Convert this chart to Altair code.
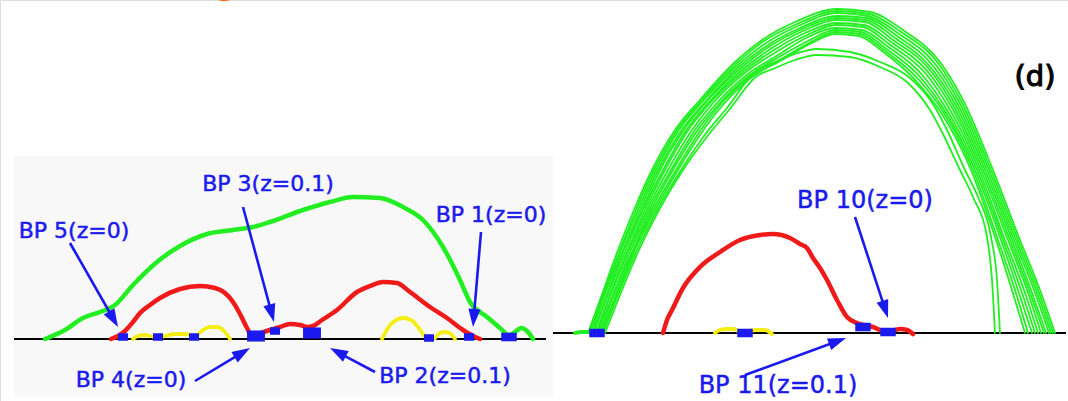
import altair as alt
import pandas as pd
import numpy as np

W, H = 1068, 401

# ---------------- data (image-like coordinates, y grows downward) ----------------
panel_x, panel_x2, panel_y, panel_y2 = [14], [553], [156], [397]
baseline_x = [14, 553]
baseline_x2 = [546, 1066]
baseline_y = [339, 333]

# left panel curves
left_green = [(45, 339), (65, 330), (83, 318), (100, 312), (115, 305), (133, 285), (157, 262),
              (180, 246), (207, 234), (233, 230), (253, 227), (270, 222), (303, 210), (330, 202),
              (353, 197), (380, 198), (403, 207), (423, 220), (443, 247), (460, 280), (470, 302),
              (487, 317), (500, 328), (509, 335), (515, 332), (521, 328), (527, 331), (533, 339)]
left_red = [(111, 339), (118, 336), (125, 331), (133, 322), (140, 313), (150, 305), (160, 298),
            (180, 289), (200, 286), (215, 288), (225, 293), (233, 302), (240, 314), (247, 328),
            (252, 336), (258, 334), (270, 330), (280, 327), (290, 324), (300, 325), (307, 327),
            (313, 326), (322, 320), (337, 310), (357, 292), (370, 286), (383, 282), (397, 283),
            (410, 292), (430, 307), (447, 318), (463, 330), (473, 336), (480, 339)]
left_yellow_a = [(133, 339), (138, 336), (145, 335), (155, 337), (165, 336), (175, 334),
                 (185, 334), (195, 336), (203, 330), (210, 327), (217, 327), (224, 331), (230, 339)]
left_yellow_b = [(382, 339), (388, 328), (396, 320), (403, 318), (411, 320), (418, 327), (425, 337)]
left_yellow_c = [(435, 338), (440, 333), (445, 332), (451, 334), (455, 339)]

# right panel curves
right_red = [(663, 333), (667, 320), (672, 310), (683, 288), (700, 267), (720, 252), (740, 240),
             (760, 235), (773, 234), (790, 238), (800, 244), (807, 248), (813, 258), (820, 268),
             (827, 280), (837, 300), (847, 317), (857, 323), (873, 327), (887, 332), (900, 329),
             (907, 330), (913, 334)]
right_yellow = [(715, 333), (720, 330), (727, 329), (734, 329), (740, 332), (747, 331),
                (757, 330), (765, 330), (772, 334)]
right_green_tail = [(575, 333), (582, 332), (590, 332)]

# green field-line bundle (right panel)
fan_1 = [(588, 333), (600, 300), (618, 250), (634, 210), (652, 170), (675, 130), (700, 100), (733, 64), (762, 40), (795, 22), (837, 9), (870, 12), (903, 30), (940, 62), (963, 100), (993, 170), (1020, 240), (1040, 290), (1055, 333)]
fan_2 = [(589, 333), (601, 300), (620, 250), (636, 210), (654, 170), (677, 130), (702, 100), (735, 65), (764, 41), (797, 24), (837, 11), (869, 14), (901, 32), (938, 63), (961, 101), (991, 170), (1018, 240), (1038, 290), (1053, 333)]
fan_3 = [(590, 333), (602, 300), (621, 250), (638, 210), (656, 170), (679, 130), (704, 100), (737, 66), (766, 43), (798, 26), (837, 13), (868, 16), (899, 34), (936, 65), (959, 102), (989, 170), (1016, 240), (1036, 290), (1051, 333)]
fan_4 = [(592, 333), (603, 300), (623, 250), (640, 210), (658, 170), (681, 131), (706, 101), (739, 67), (768, 45), (800, 28), (837, 16), (867, 18), (897, 36), (934, 67), (957, 103), (987, 170), (1014, 240), (1034, 290), (1049, 333)]
fan_5 = [(593, 333), (605, 300), (624, 250), (642, 210), (660, 170), (683, 131), (707, 101), (741, 68), (770, 46), (802, 29), (836, 18), (866, 20), (895, 38), (932, 69), (955, 104), (985, 170), (1012, 240), (1031, 290), (1046, 333)]
fan_6 = [(594, 333), (606, 300), (626, 250), (643, 210), (663, 170), (685, 132), (709, 102), (742, 70), (772, 48), (803, 31), (836, 20), (865, 22), (893, 40), (930, 70), (953, 105), (983, 170), (1010, 240), (1029, 290), (1044, 333)]
fan_7 = [(596, 333), (608, 300), (628, 250), (645, 210), (665, 170), (687, 132), (711, 102), (744, 71), (774, 50), (805, 33), (836, 23), (864, 25), (891, 42), (928, 72), (951, 106), (981, 170), (1008, 240), (1027, 290), (1041, 333)]
fan_8 = [(597, 333), (609, 300), (629, 250), (647, 210), (668, 170), (690, 133), (713, 103), (746, 72), (776, 52), (807, 35), (836, 25), (863, 27), (889, 44), (926, 74), (949, 108), (979, 170), (1005, 240), (1024, 290), (1038, 333)]
fan_9 = [(598, 333), (611, 300), (631, 250), (649, 210), (671, 170), (693, 133), (716, 104), (748, 74), (778, 55), (808, 37), (835, 28), (862, 30), (887, 46), (924, 77), (947, 110), (977, 170), (1003, 240), (1021, 290), (1035, 333)]
fan_10 = [(600, 333), (612, 300), (633, 250), (651, 210), (673, 170), (695, 134), (718, 105), (750, 75), (779, 57), (810, 40), (835, 30), (861, 32), (885, 48), (922, 79), (945, 111), (975, 170), (1001, 240), (1018, 290), (1032, 333)]
fan_11 = [(601, 333), (614, 300), (634, 250), (653, 210), (676, 170), (698, 134), (720, 105), (751, 76), (781, 59), (811, 42), (835, 32), (860, 34), (884, 50), (920, 81), (944, 113), (973, 170), (998, 240), (1015, 290), (1028, 333)]
fan_12 = [(602, 333), (615, 300), (635, 250), (655, 210), (678, 170), (700, 135), (722, 106), (752, 77), (782, 60), (812, 43), (835, 34), (859, 36), (882, 51), (918, 83), (942, 114), (971, 170), (996, 240), (1012, 290), (1025, 333)]
fan_13 = [(603, 333), (616, 300), (637, 250), (657, 210), (681, 170), (704, 136), (727, 108), (757, 70), (773, 63), (795, 54), (817, 49), (850, 52), (880, 62), (910, 78), (933, 104), (947, 130), (965, 170), (978, 197), (991, 237), (997, 280), (1000, 333)]
fan_14 = [(605, 333), (618, 300), (639, 250), (659, 210), (683, 170), (706, 138), (729, 110), (757, 76), (773, 69), (795, 60), (817, 55), (850, 57), (880, 67), (908, 83), (930, 110), (944, 136), (960, 170), (973, 197), (987, 237), (992, 280), (995, 333)]
fan_lines = [fan_1, fan_2, fan_3, fan_4, fan_5, fan_6, fan_7, fan_8, fan_9, fan_10,
             fan_11, fan_12, fan_13, fan_14]

# blue footpoint markers (centres)
marker_small_x = [123, 158, 194, 275, 429, 469]
marker_small_y = [337, 337, 337, 331, 338, 337]
marker_mid_x = [509, 597, 745, 863, 888]
marker_mid_y = [337, 333, 333, 327, 332]
marker_big_x = [256, 312]
marker_big_y = [336, 333]

# arrows: start -> tip
arrow_x0 = [70, 243, 481, 195, 375, 855, 745]
arrow_y0 = [243, 207, 232, 381, 372, 217, 375]
arrow_x1 = [118, 274, 473, 250, 330, 888, 846]
arrow_y1 = [327, 322, 327, 348, 348, 318, 338]

# labels
left_labels = ["BP 5(z=0)", "BP 3(z=0.1)", "BP 1(z=0)", "BP 4(z=0)", "BP 2(z=0.1)"]
left_label_x = [74, 268, 491, 131, 445]
left_label_y = [231, 184, 215, 380, 376]
right_labels = ["BP 10(z=0)", "BP 11(z=0.1)"]
right_label_x = [865, 778]
right_label_y = [201, 386]
panel_tag = ["(d)"]
panel_tag_x = [1035]
panel_tag_y = [77]
title_tail = ["g"]
title_tail_x = [226]
title_tail_y = [-8]

# ---------------- build tables ----------------
def curve_rows(named):
    rows = []
    for name, (cat, pts) in named.items():
        for i, (x, y) in enumerate(pts):
            rows.append({"curve": name, "cat": cat, "i": i, "x": x, "y": y})
    return pd.DataFrame(rows)

thick = curve_rows({
    "lg": ("green", left_green), "lr": ("red", left_red), "rr": ("red", right_red),
})
thin_yellow = curve_rows({
    "ya": ("yellow", left_yellow_a), "yb": ("yellow", left_yellow_b),
    "yc": ("yellow", left_yellow_c), "yr": ("yellow", right_yellow),
    "gt": ("green", right_green_tail),
})
fan = curve_rows({f"f{k}": ("green", pts) for k, pts in enumerate(fan_lines)})

color_scale = alt.Scale(domain=["green", "red", "yellow"],
                        range=["#22ee22", "#f01a1a", "#f4ee14"])

xs = alt.Scale(domain=[0, W], nice=False, zero=False)
ys = alt.Scale(domain=[0, H], nice=False, zero=False, reverse=True)

def X(f="x"):
    return alt.X(f"{f}:Q", scale=xs, axis=None)

def Y(f="y"):
    return alt.Y(f"{f}:Q", scale=ys, axis=None)

bg = alt.Chart(pd.DataFrame({"x": panel_x, "x2": panel_x2, "y": panel_y, "y2": panel_y2})).mark_rect(
    color="#f8f8f8").encode(x=X(), x2="x2:Q", y=Y(), y2="y2:Q")

base = alt.Chart(pd.DataFrame({"x": baseline_x, "x2": baseline_x2, "y": baseline_y})).mark_rule(
    color="black", strokeWidth=2).encode(x=X(), x2="x2:Q", y=Y())

def line_layer(df, width, interp):
    return alt.Chart(df).mark_line(strokeWidth=width, interpolate=interp, strokeCap="round",
                                   strokeJoin="round").encode(
        x=X(), y=Y(), detail="curve:N", order="i:Q",
        color=alt.Color("cat:N", scale=color_scale, legend=None))

fan_layer = line_layer(fan, 1.8, "monotone")
thick_layer = line_layer(thick, 4.5, "monotone")
yellow_layer = line_layer(thin_yellow, 3.8, "monotone")

def marker_layer(xv, yv, path, size):
    return alt.Chart(pd.DataFrame({"x": xv, "y": yv})).mark_point(
        shape=path, size=size, filled=True, opacity=1, color="#1a1aee", strokeWidth=0).encode(
        x=X(), y=Y())

m_small = marker_layer(marker_small_x, marker_small_y, "M-1,-0.75H1V0.75H-1Z", 100)
m_mid = marker_layer(marker_mid_x, marker_mid_y, "M-1,-0.55H1V0.55H-1Z", 240)
m_big = marker_layer(marker_big_x, marker_big_y, "M-1,-0.62H1V0.62H-1Z", 320)

# arrows
ax0, ay0 = np.array(arrow_x0, float), np.array(arrow_y0, float)
ax1, ay1 = np.array(arrow_x1, float), np.array(arrow_y1, float)
dx, dy = ax1 - ax0, ay1 - ay0
n = np.hypot(dx, dy)
ux, uy = dx / n, dy / n
HEAD = 18.0
arrows = pd.DataFrame({
    "x": ax0, "y": ay0,
    "x2": ax1 - ux * HEAD * 0.8, "y2": ay1 - uy * HEAD * 0.8,
    "hx": ax1 - ux * HEAD / 2, "hy": ay1 - uy * HEAD / 2,
    "ang": np.mod(np.degrees(np.arctan2(dx, -dy)), 360),
})
shafts = alt.Chart(arrows).mark_rule(color="#1a1aee", strokeWidth=2.6).encode(
    x=X(), y=Y(), x2="x2:Q", y2="y2:Q")
heads = alt.Chart(arrows).mark_point(
    shape="M0,-1L-0.68,1L0.68,1Z", size=HEAD * HEAD, filled=True, opacity=1,
    color="#1a1aee", strokeWidth=0).encode(
    x=X("hx"), y=Y("hy"), angle=alt.Angle("ang:Q", scale=None))

def text_layer(txt, xv, yv, size, color, weight="normal", sw=0.0):
    kw = dict(font="DejaVu Sans", fontSize=size, color=color, align="center", baseline="middle",
              fontWeight=weight)
    if sw > 0:
        kw.update(stroke=color, strokeWidth=sw)
    return alt.Chart(pd.DataFrame({"t": txt, "x": xv, "y": yv})).mark_text(**kw).encode(
        x=X(), y=Y(), text="t:N")

lab_left = text_layer(left_labels, left_label_x, left_label_y, 22, "#1a1aee", sw=0.5)
lab_right = text_layer(right_labels, right_label_x, right_label_y, 24, "#1a1aee", sw=0.5)
tag = text_layer(panel_tag, panel_tag_x, panel_tag_y, 29, "black", sw=1.1)
ttl = alt.Chart(pd.DataFrame({"t": title_tail, "x": title_tail_x, "y": title_tail_y})).mark_text(
    font="DejaVu Sans", fontSize=44, color="#ff6a10", align="center", baseline="alphabetic").encode(
    x=X(), y=Y(), text="t:N")

chart = alt.layer(
    bg, base, fan_layer, thick_layer, yellow_layer, m_small, m_mid, m_big,
    shafts, heads, lab_left, lab_right, tag, ttl
).properties(width=W, height=H, padding=0, autosize=alt.AutoSizeParams(type="none")).configure_view(
    stroke=None).configure(background="white")

chart.save("out.html", embed_options={"renderer": "svg", "actions": False})
